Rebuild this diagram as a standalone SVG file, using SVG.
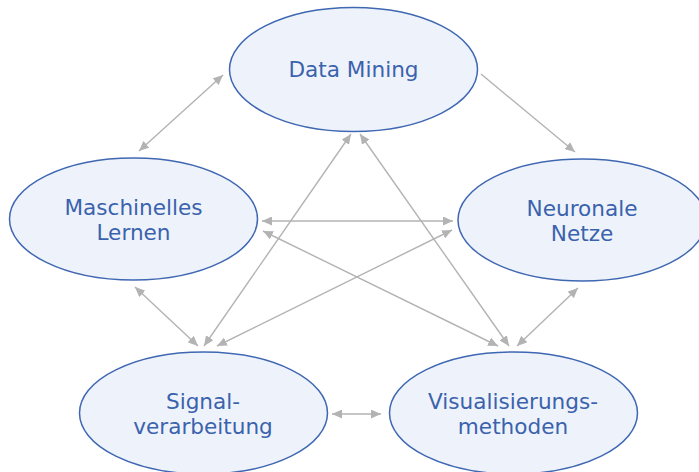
<svg xmlns="http://www.w3.org/2000/svg" width="699" height="472" viewBox="0 0 699 472">
<style>
.node ellipse{fill:#eef3fb;stroke:#3f67b2;stroke-width:1.5}
.node text{font-family:"DejaVu Sans","Verdana",sans-serif;font-size:21.6px;fill:#3b62ad;text-anchor:middle}
#connectors line{stroke:#b3b3b3;stroke-width:1.4;fill:none}
.bi{marker-start:url(#ah);marker-end:url(#ah)}
.uni{marker-end:url(#ah)}
</style>
<defs>
<marker id="ah" markerUnits="userSpaceOnUse" markerWidth="11" markerHeight="9" refX="10" refY="4.5" orient="auto-start-reverse" viewBox="0 0 11 9">
<path d="M0,0 L10,4.5 L0,9 z" fill="#b3b3b3"/>
</marker>
</defs>
<rect width="699" height="472" fill="#ffffff"/>
<g id="connectors">
<line class="bi" x1="223" y1="75" x2="139" y2="151"/>
<line class="uni" x1="481" y1="74" x2="575" y2="152"/>
<line class="bi" x1="262" y1="221" x2="453" y2="221"/>
<line class="bi" x1="263" y1="231" x2="498" y2="346"/>
<line class="bi" x1="360" y1="134" x2="509" y2="346"/>
<line class="bi" x1="578" y1="288" x2="517" y2="346"/>
<line class="bi" x1="452" y1="230" x2="217" y2="346"/>
<line class="bi" x1="351" y1="134" x2="204" y2="346"/>
<line class="bi" x1="135" y1="287" x2="198" y2="346"/>
<line class="bi" x1="332" y1="414" x2="381" y2="414"/>
</g>
<g id="data-mining" class="node">
<ellipse cx="353.5" cy="69.5" rx="124" ry="62"/>
<text x="353.5" y="76.5">Data Mining</text>
</g>
<g id="maschinelles-lernen" class="node">
<ellipse cx="133.5" cy="219" rx="124" ry="61"/>
<text x="133.5" y="215">Maschinelles</text>
<text x="133.5" y="240">Lernen</text>
</g>
<g id="neuronale-netze" class="node">
<ellipse cx="582" cy="220" rx="124" ry="61"/>
<text x="582" y="215.5">Neuronale</text>
<text x="582" y="240.5">Netze</text>
</g>
<g id="signalverarbeitung" class="node">
<ellipse cx="203.5" cy="413" rx="124" ry="61"/>
<text x="203" y="409">Signal-</text>
<text x="203" y="433.5">verarbeitung</text>
</g>
<g id="visualisierungsmethoden" class="node">
<ellipse cx="513.5" cy="413" rx="124" ry="61"/>
<text x="513" y="408.5">Visualisierungs-</text>
<text x="513" y="433.5">methoden</text>
</g>
</svg>
